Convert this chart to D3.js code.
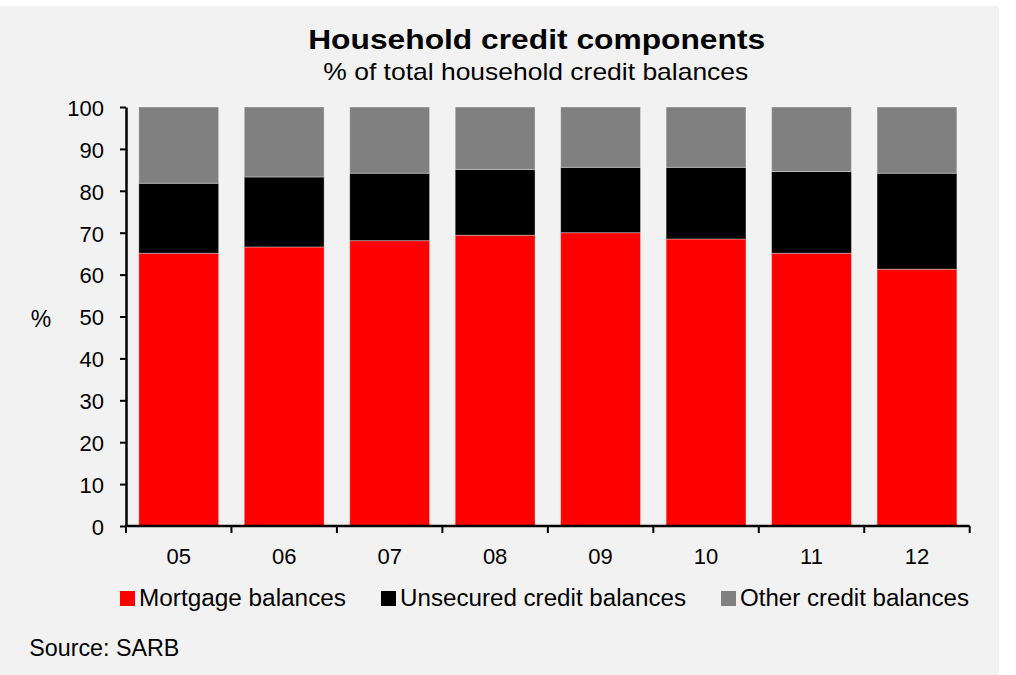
<!DOCTYPE html>
<html>
<head>
<meta charset="utf-8">
<script src="https://cdn.jsdelivr.net/npm/d3@7"></script>
<style>
  body { margin: 0; background: #ffffff; }
  text { font-family: "Liberation Sans", Arial, sans-serif; fill: #000; }
</style>
</head>
<body>
<div id="chart"></div>
<script>
//Chart data
const years = ["05", "06", "07", "08", "09", "10", "11", "12"];
const mortgage = [65.1, 66.6, 68.1, 69.4, 70.0, 68.5, 65.1, 61.3];
const unsecured = [16.7, 16.7, 16.1, 15.7, 15.6, 17.1, 19.5, 22.9];
const other = [18.2, 16.7, 15.8, 14.9, 14.4, 14.4, 15.4, 15.8];
const yTicks = [0, 10, 20, 30, 40, 50, 60, 70, 80, 90, 100];
const seriesNames = ["Mortgage balances", "Unsecured credit balances", "Other credit balances"];
const colors = ["#ff0000", "#000000", "#808080"];

//Display specifications
const W = 1016, H = 675;
const margin = {top: 107, right: 44, bottom: 149, left: 126};

const rows = years.map((y, i) => ({year: y, mortgage: mortgage[i], unsecured: unsecured[i], other: other[i]}));
const keys = ["mortgage", "unsecured", "other"];

const svg = d3.select("#chart")
  .append("svg")
  .attr("width", W)
  .attr("height", H);

//Background panel
svg.append("rect")
  .attr("x", 0).attr("y", 6)
  .attr("width", 999).attr("height", H - 6)
  .attr("fill", "#f2f2f2");

//Scales
const x = d3.scaleBand()
  .domain(years)
  .range([margin.left, W - margin.right - 2.3])
  .paddingInner(0.243)
  .paddingOuter(0.1215);

const y = d3.scaleLinear()
  .domain([0, 100])
  .range([H - margin.bottom, margin.top]);

//Stacked bars
const stacked = d3.stack().keys(keys)(rows);

svg.append("g")
  .selectAll("g")
  .data(stacked)
  .enter()
  .append("g")
  .attr("fill", (d, i) => colors[i])
  .selectAll("rect")
  .data(d => d)
  .enter()
  .append("rect")
  .attr("x", d => x(d.data.year))
  .attr("y", d => y(d[1]))
  .attr("width", x.bandwidth())
  .attr("height", d => y(d[0]) - y(d[1]))
  .attr("stroke", "#ffffff")
  .attr("stroke-opacity", 0.35)
  .attr("stroke-width", 1);

//Y axis
const yAxis = svg.append("g")
  .attr("transform", "translate(" + margin.left + ",0)")
  .call(d3.axisLeft(y).tickValues(yTicks).tickSize(6).tickSizeOuter(0).tickPadding(16));
yAxis.select(".domain").attr("stroke-width", 2.5);
yAxis.selectAll(".tick line").attr("stroke-width", 2);
yAxis.selectAll("text")
  .style("font-family", "Liberation Sans, Arial, sans-serif")
  .style("font-size", "22px")
  .attr("dy", "0.38em");

//X axis labels
const xAxis = svg.append("g")
  .attr("transform", "translate(0," + y(0) + ")")
  .call(d3.axisBottom(x).tickSize(0).tickPadding(22));
xAxis.select(".domain").remove();
xAxis.selectAll("text")
  .style("font-family", "Liberation Sans, Arial, sans-serif")
  .style("font-size", "22px");

//X axis line and boundary ticks
svg.append("line")
  .attr("x1", margin.left - 1)
  .attr("x2", x.range()[1])
  .attr("y1", y(0)).attr("y2", y(0))
  .attr("stroke", "#000").attr("stroke-width", 2.5);

svg.append("g")
  .selectAll("line")
  .data(d3.range(years.length + 1))
  .enter()
  .append("line")
  .attr("x1", i => x.range()[0] + i * x.step())
  .attr("x2", i => x.range()[0] + i * x.step())
  .attr("y1", y(0))
  .attr("y2", y(0) + 7)
  .attr("stroke", "#000")
  .attr("stroke-width", 2);

//Y label
svg.append("text")
  .attr("x", 41)
  .attr("y", 327)
  .attr("text-anchor", "middle")
  .style("font-size", "23px")
  .text("%");

//Title
svg.append("text")
  .attr("x", 536.7)
  .attr("y", 49)
  .attr("text-anchor", "middle")
  .attr("textLength", 457)
  .attr("lengthAdjust", "spacingAndGlyphs")
  .style("font-size", "28px")
  .style("font-weight", "bold")
  .text("Household credit components");

svg.append("text")
  .attr("x", 535.8)
  .attr("y", 80)
  .attr("text-anchor", "middle")
  .attr("textLength", 425)
  .attr("lengthAdjust", "spacingAndGlyphs")
  .style("font-size", "24px")
  .text("% of total household credit balances");

//Legend
const legendX = [120, 381, 721];
const legendW = [207, 286, 229];
const legend = svg.append("g")
  .selectAll("g")
  .data(seriesNames)
  .enter()
  .append("g")
  .attr("transform", (d, i) => "translate(" + legendX[i] + ",0)");

legend.append("rect")
  .attr("x", 0).attr("y", 591)
  .attr("width", 15).attr("height", 15)
  .attr("fill", (d, i) => colors[i]);

legend.append("text")
  .attr("x", 19)
  .attr("y", 606)
  .attr("textLength", (d, i) => legendW[i])
  .attr("lengthAdjust", "spacingAndGlyphs")
  .style("font-size", "23px")
  .text(d => d);

//Source
svg.append("text")
  .attr("x", 29.3)
  .attr("y", 656)
  .attr("textLength", 150)
  .attr("lengthAdjust", "spacingAndGlyphs")
  .style("font-size", "23px")
  .text("Source: SARB");
</script>
</body>
</html>
